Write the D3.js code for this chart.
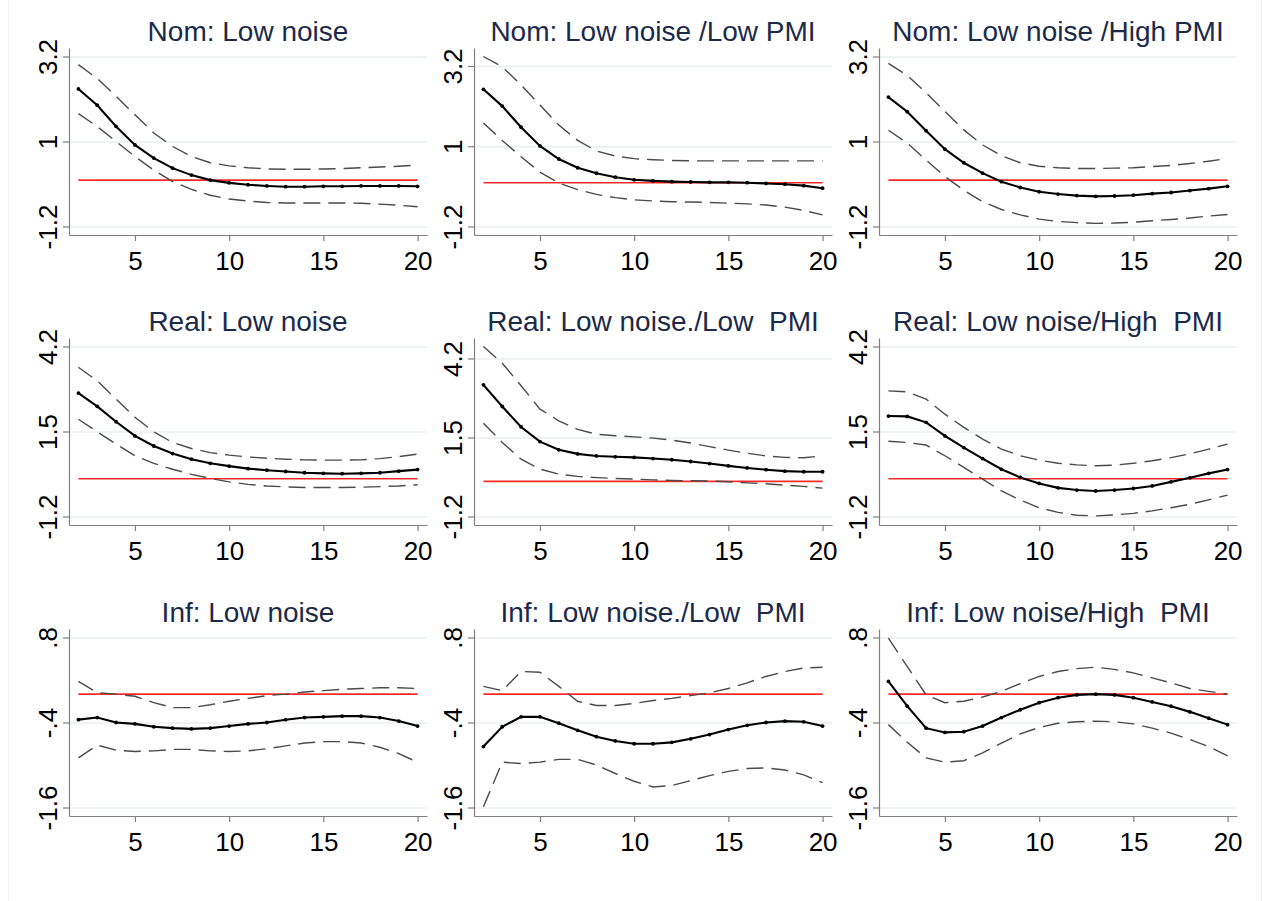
<!DOCTYPE html>
<html>
<head>
<meta charset="utf-8">
<script src="https://cdn.jsdelivr.net/npm/d3@7"></script>
<style>
  body { margin: 0; background: #fff; }
  svg { display: block; font-family: "Liberation Sans", Arial, sans-serif; }
  .frame { fill: none; stroke: #f0f0f0; }
  .grid line { stroke: #e8eff1; stroke-width: 1.3; }
  .grid path { display: none; }
  .axis path, .axis line { stroke: #808080; stroke-width: 1.2; }
  .axis text { fill: #000; font-size: 26px; }
  .title { fill: #1c2a4a; font-size: 28px; white-space: pre; }
  .zero { stroke: #ff2a2a; stroke-width: 1.6; }
  .band { fill: none; stroke: #4a4a4a; stroke-width: 1.4; stroke-dasharray: 17 8; }
  .irf { fill: none; stroke: #000; stroke-width: 2.1; }
  .irf-dot { fill: #000; }
</style>
</head>
<body>
<div id="chart"></div>
<script>
const horizons = [2, 3, 4, 5, 6, 7, 8, 9, 10, 11, 12, 13, 14, 15, 16, 17, 18, 19, 20];
const xTicks = [5, 10, 15, 20];

const nomTicks = [-1.2, 1, 3.2];
const realTicks = [-1.2, 1.5, 4.2];
const infTicks = [-1.6, -0.4, 0.8];

const panelTitles = [
  'Nom: Low noise', 'Nom: Low noise /Low PMI', 'Nom: Low noise /High PMI',
  'Real: Low noise', 'Real: Low noise./Low  PMI', 'Real: Low noise/High  PMI',
  'Inf: Low noise', 'Inf: Low noise./Low  PMI', 'Inf: Low noise/High  PMI',
];

// nominal rate responses
const nomLowMean = [2.36, 1.94, 1.39, 0.91, 0.57, 0.31, 0.13, 0.0, -0.07, -0.12, -0.15, -0.17, -0.17, -0.16, -0.16, -0.15, -0.15, -0.15, -0.16];
const nomLowUpper = [2.99, 2.63, 2.17, 1.69, 1.22, 0.87, 0.61, 0.45, 0.37, 0.32, 0.29, 0.28, 0.28, 0.29, 0.30, 0.32, 0.34, 0.36, 0.39];
const nomLowLower = [1.72, 1.39, 1.0, 0.61, 0.26, -0.04, -0.24, -0.39, -0.49, -0.54, -0.58, -0.59, -0.59, -0.59, -0.59, -0.60, -0.62, -0.65, -0.69];

const nomLowPmiMean = [2.56, 2.10, 1.52, 1.01, 0.65, 0.41, 0.26, 0.15, 0.08, 0.05, 0.03, 0.02, 0.01, 0.01, 0.0, -0.02, -0.04, -0.08, -0.15];
const nomLowPmiUpper = [3.46, 3.18, 2.68, 2.13, 1.58, 1.16, 0.87, 0.73, 0.66, 0.63, 0.61, 0.60, 0.60, 0.60, 0.60, 0.60, 0.60, 0.60, 0.60];
const nomLowPmiLower = [1.64, 1.16, 0.71, 0.29, -0.01, -0.19, -0.32, -0.41, -0.47, -0.50, -0.52, -0.53, -0.54, -0.56, -0.58, -0.61, -0.67, -0.76, -0.88];

const nomHighPmiMean = [2.15, 1.77, 1.28, 0.80, 0.45, 0.18, -0.04, -0.19, -0.30, -0.36, -0.40, -0.42, -0.41, -0.39, -0.35, -0.32, -0.27, -0.22, -0.16];
const nomHighPmiUpper = [3.02, 2.71, 2.26, 1.78, 1.30, 0.91, 0.63, 0.45, 0.36, 0.32, 0.30, 0.30, 0.31, 0.32, 0.35, 0.38, 0.43, 0.49, 0.56];
const nomHighPmiLower = [1.29, 0.96, 0.52, 0.09, -0.26, -0.56, -0.76, -0.90, -1.01, -1.07, -1.10, -1.12, -1.11, -1.09, -1.05, -1.02, -0.98, -0.93, -0.89];

// real rate responses
const realLowMean = [2.72, 2.30, 1.81, 1.36, 1.04, 0.80, 0.62, 0.49, 0.40, 0.32, 0.27, 0.23, 0.19, 0.17, 0.16, 0.17, 0.19, 0.24, 0.29];
const realLowUpper = [3.54, 3.11, 2.53, 1.95, 1.49, 1.15, 0.96, 0.83, 0.75, 0.69, 0.65, 0.62, 0.60, 0.59, 0.59, 0.60, 0.64, 0.70, 0.78];
const realLowLower = [1.89, 1.49, 1.10, 0.73, 0.49, 0.30, 0.14, 0.01, -0.10, -0.18, -0.23, -0.26, -0.28, -0.28, -0.28, -0.27, -0.25, -0.23, -0.19];

const realLowPmiMean = [3.30, 2.56, 1.86, 1.36, 1.08, 0.94, 0.87, 0.84, 0.82, 0.78, 0.74, 0.68, 0.61, 0.53, 0.46, 0.40, 0.35, 0.33, 0.33];
const realLowPmiUpper = [4.61, 4.04, 3.27, 2.47, 2.07, 1.78, 1.61, 1.56, 1.52, 1.48, 1.41, 1.31, 1.19, 1.07, 0.96, 0.87, 0.82, 0.81, 0.87];
const realLowPmiLower = [1.99, 1.33, 0.76, 0.42, 0.25, 0.17, 0.13, 0.10, 0.08, 0.05, 0.03, 0.02, 0.01, -0.01, -0.05, -0.08, -0.13, -0.17, -0.23];

const realHighPmiMean = [1.99, 1.98, 1.79, 1.36, 0.99, 0.64, 0.30, 0.04, -0.15, -0.29, -0.36, -0.39, -0.36, -0.31, -0.23, -0.10, 0.03, 0.17, 0.29];
const realHighPmiUpper = [2.79, 2.76, 2.53, 2.05, 1.63, 1.26, 0.94, 0.73, 0.59, 0.49, 0.44, 0.41, 0.43, 0.49, 0.57, 0.67, 0.79, 0.94, 1.10];
const realHighPmiLower = [1.19, 1.15, 1.07, 0.73, 0.36, -0.01, -0.39, -0.68, -0.92, -1.07, -1.16, -1.18, -1.15, -1.10, -1.02, -0.92, -0.81, -0.67, -0.52];

// inflation responses
const infLowMean = [-0.36, -0.33, -0.40, -0.42, -0.46, -0.48, -0.49, -0.48, -0.45, -0.42, -0.40, -0.36, -0.33, -0.32, -0.31, -0.31, -0.33, -0.38, -0.45];
const infLowUpper = [0.18, 0.02, 0.0, -0.03, -0.12, -0.19, -0.19, -0.15, -0.10, -0.06, -0.02, 0.0, 0.03, 0.05, 0.07, 0.08, 0.09, 0.09, 0.08];
const infLowLower = [-0.90, -0.72, -0.79, -0.81, -0.80, -0.78, -0.78, -0.80, -0.81, -0.80, -0.77, -0.73, -0.69, -0.67, -0.67, -0.69, -0.75, -0.84, -0.96];

const infLowPmiMean = [-0.74, -0.46, -0.32, -0.32, -0.41, -0.51, -0.60, -0.66, -0.70, -0.70, -0.68, -0.63, -0.57, -0.50, -0.44, -0.40, -0.38, -0.39, -0.45];
const infLowPmiUpper = [0.11, 0.05, 0.32, 0.31, 0.11, -0.10, -0.16, -0.16, -0.13, -0.09, -0.06, -0.02, 0.02, 0.08, 0.16, 0.25, 0.32, 0.37, 0.38];
const infLowPmiLower = [-1.59, -0.96, -0.98, -0.96, -0.92, -0.92, -1.0, -1.12, -1.23, -1.31, -1.29, -1.22, -1.15, -1.09, -1.05, -1.04, -1.07, -1.14, -1.25];

const infHighPmiMean = [0.18, -0.17, -0.48, -0.54, -0.53, -0.45, -0.33, -0.22, -0.12, -0.05, -0.01, 0.0, -0.01, -0.05, -0.11, -0.17, -0.25, -0.34, -0.43];
const infHighPmiUpper = [0.79, 0.39, -0.01, -0.12, -0.10, -0.04, 0.04, 0.15, 0.25, 0.32, 0.36, 0.38, 0.35, 0.30, 0.23, 0.16, 0.08, 0.04, 0.0];
const infHighPmiLower = [-0.43, -0.68, -0.90, -0.96, -0.94, -0.83, -0.69, -0.56, -0.47, -0.41, -0.39, -0.38, -0.39, -0.42, -0.48, -0.55, -0.64, -0.74, -0.87];

const panels = [
  { title: panelTitles[0], ticks: nomTicks, mean: nomLowMean, upper: nomLowUpper, lower: nomLowLower },
  { title: panelTitles[1], ticks: nomTicks, mean: nomLowPmiMean, upper: nomLowPmiUpper, lower: nomLowPmiLower },
  { title: panelTitles[2], ticks: nomTicks, mean: nomHighPmiMean, upper: nomHighPmiUpper, lower: nomHighPmiLower },
  { title: panelTitles[3], ticks: realTicks, mean: realLowMean, upper: realLowUpper, lower: realLowLower },
  { title: panelTitles[4], ticks: realTicks, mean: realLowPmiMean, upper: realLowPmiUpper, lower: realLowPmiLower },
  { title: panelTitles[5], ticks: realTicks, mean: realHighPmiMean, upper: realHighPmiUpper, lower: realHighPmiLower },
  { title: panelTitles[6], ticks: infTicks, mean: infLowMean, upper: infLowUpper, lower: infLowLower },
  { title: panelTitles[7], ticks: infTicks, mean: infLowPmiMean, upper: infLowPmiUpper, lower: infLowPmiLower },
  { title: panelTitles[8], ticks: infTicks, mean: infHighPmiMean, upper: infHighPmiUpper, lower: infHighPmiLower },
];

const width = 1263;
const height = 901;
const colX = [69, 474, 879];
const rowY = [48, 338, 629];
const plotW = 358;
const plotH = 187;

const svg = d3.select('#chart')
  .append('svg')
  .attr('width', width)
  .attr('height', height);

svg.append('rect')
  .attr('class', 'frame')
  .attr('x', 8.5)
  .attr('y', -2)
  .attr('width', 1253)
  .attr('height', height + 4);

// stata style: strip leading zero
const fmt = d => String(d).replace(/^(-?)0\./, '$1.');

function drawPanel(panel, i) {
  const g = svg.append('g')
    .attr('transform', `translate(${colX[i % 3]}, ${rowY[Math.floor(i / 3)]})`);

  const values = [...panel.mean, ...panel.upper, ...panel.lower, ...panel.ticks];
  const lo = d3.min(values);
  const hi = d3.max(values);
  const pad = (hi - lo) * 0.05;

  const x = d3.scaleLinear().domain([1.5, 20.5]).range([0, plotW]);
  const y = d3.scaleLinear().domain([lo - pad, hi + pad]).range([plotH, 0]);

  g.append('g')
    .attr('class', 'grid')
    .call(d3.axisLeft(y).tickValues(panel.ticks).tickSize(-plotW).tickFormat(''));

  const yAxis = g.append('g')
    .attr('class', 'axis')
    .call(d3.axisLeft(y).tickValues(panel.ticks).tickSize(6).tickSizeOuter(0).tickFormat(fmt));

  yAxis.selectAll('text')
    .attr('transform', 'rotate(-90)')
    .attr('x', 0)
    .attr('y', -12)
    .attr('dy', 0)
    .attr('text-anchor', 'middle');

  const xAxis = g.append('g')
    .attr('class', 'axis')
    .attr('transform', `translate(0, ${plotH})`)
    .call(d3.axisBottom(x).tickValues(xTicks).tickSize(6).tickSizeOuter(0));

  xAxis.selectAll('text')
    .attr('y', 35)
    .attr('dy', 0);

  g.append('line')
    .attr('class', 'zero')
    .attr('x1', x(horizons[0]))
    .attr('x2', x(horizons[horizons.length - 1]))
    .attr('y1', y(0))
    .attr('y2', y(0));

  const line = d3.line()
    .x((d, k) => x(horizons[k]))
    .y(d => y(d));

  g.append('path').datum(panel.upper).attr('class', 'band').attr('d', line);
  g.append('path').datum(panel.lower).attr('class', 'band').attr('d', line);
  g.append('path').datum(panel.mean).attr('class', 'irf').attr('d', line);

  g.selectAll('.irf-dot')
    .data(panel.mean)
    .enter()
    .append('circle')
    .attr('class', 'irf-dot')
    .attr('cx', (d, k) => x(horizons[k]))
    .attr('cy', d => y(d))
    .attr('r', 1.9);

  g.append('text')
    .attr('class', 'title')
    .attr('x', plotW / 2)
    .attr('y', -7.5)
    .attr('text-anchor', 'middle')
    .text(panel.title);
}

panels.forEach(drawPanel);
</script>
</body>
</html>
